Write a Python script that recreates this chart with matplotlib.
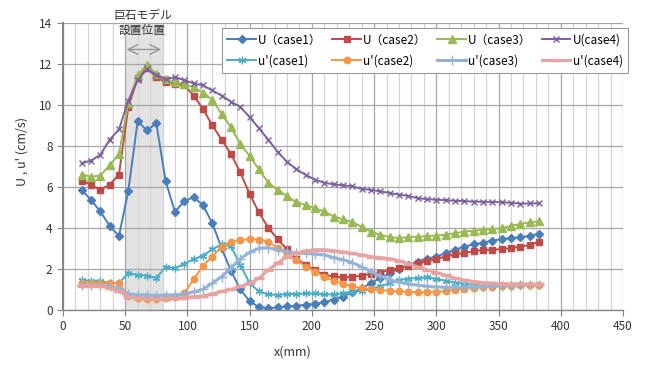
import matplotlib
matplotlib.use("Agg")
import matplotlib.pyplot as plt

plt.rcParams['font.family'] = ['Noto Sans CJK JP', 'DejaVu Sans']

# measurement positions (mm)
x_mm = [15.0, 22.5, 30.0, 37.5, 45.0, 52.5, 60.0, 67.5, 75.0, 82.5,
        90.0, 97.5, 105.0, 112.5, 120.0, 127.5, 135.0, 142.5, 150.0, 157.5,
        165.0, 172.5, 180.0, 187.5, 195.0, 202.5, 210.0, 217.5, 225.0, 232.5,
        240.0, 247.5, 255.0, 262.5, 270.0, 277.5, 285.0, 292.5, 300.0, 307.5,
        315.0, 322.5, 330.0, 337.5, 345.0, 352.5, 360.0, 367.5, 375.0, 382.5]

U1 = [5.85, 5.37, 4.8, 4.1, 3.6, 5.8, 9.2, 8.75, 9.1, 6.28,
      4.78, 5.3, 5.5, 5.1, 4.23, 3.0, 1.9, 1.0, 0.42, 0.13,
      0.08, 0.12, 0.17, 0.2, 0.25, 0.3, 0.38, 0.5, 0.65, 0.85,
      1.05, 1.3, 1.55, 1.8, 2.0, 2.2, 2.35, 2.5, 2.6, 2.77,
      2.93, 3.09, 3.2, 3.27, 3.38, 3.45, 3.5, 3.55, 3.6, 3.72]
U2 = [6.3, 6.1, 5.85, 6.1, 6.6, 9.9, 11.3, 11.8, 11.35, 11.1,
      11.0, 10.95, 10.45, 9.8, 9.0, 8.3, 7.6, 6.7, 5.65, 4.75,
      4.0, 3.45, 2.95, 2.5, 2.2, 1.92, 1.7, 1.63, 1.58, 1.62,
      1.66, 1.76, 1.82, 1.95, 2.03, 2.15, 2.28, 2.36, 2.48, 2.6,
      2.7, 2.78, 2.86, 2.92, 2.93, 2.96, 3.01, 3.09, 3.16, 3.33]
U3 = [6.6, 6.5, 6.55, 7.05, 7.6, 10.1, 11.45, 11.95, 11.5, 11.25,
      11.1, 11.0, 10.85, 10.6, 10.25, 9.55, 8.9, 8.1, 7.5, 6.85,
      6.2, 5.85, 5.55, 5.25, 5.12, 4.95, 4.8, 4.55, 4.42, 4.28,
      4.05, 3.82, 3.66, 3.55, 3.5, 3.55, 3.57, 3.6, 3.62, 3.66,
      3.74, 3.82, 3.86, 3.9, 3.93, 3.98, 4.1, 4.18, 4.27, 4.32]
U4 = [7.15, 7.28, 7.56, 8.3, 8.8, 10.2, 11.2, 11.75, 11.45, 11.25,
      11.35, 11.2, 11.05, 10.95, 10.7, 10.45, 10.15, 9.9, 9.4, 8.85,
      8.3, 7.7, 7.22, 6.86, 6.58, 6.35, 6.2, 6.12, 6.08, 6.02,
      5.9, 5.85, 5.78, 5.7, 5.62, 5.55, 5.45, 5.4, 5.37, 5.35,
      5.32, 5.3, 5.28, 5.27, 5.26, 5.25, 5.22, 5.18, 5.19, 5.2]
u1 = [1.45, 1.42, 1.4, 1.32, 1.3, 1.78, 1.7, 1.67, 1.55, 2.1,
      2.02, 2.25, 2.47, 2.65, 2.95, 3.2, 3.1, 2.2, 1.3, 0.9,
      0.75, 0.73, 0.76, 0.78, 0.8, 0.8, 0.75, 0.76, 0.8, 0.87,
      0.93, 1.02, 1.14, 1.3, 1.45, 1.52, 1.55, 1.58, 1.5, 1.42,
      1.33, 1.26, 1.23, 1.22, 1.22, 1.2, 1.2, 1.2, 1.2, 1.2]
u2 = [1.33, 1.33, 1.3, 1.3, 1.3, 0.68, 0.57, 0.52, 0.52, 0.57,
      0.65, 0.8, 1.5, 2.15, 2.6, 3.09, 3.33, 3.41, 3.45, 3.43,
      3.33, 3.0, 2.7, 2.44, 2.11, 1.87, 1.6, 1.42, 1.28, 1.15,
      1.05, 1.0, 0.97, 0.93, 0.9, 0.88, 0.86, 0.86, 0.88, 0.92,
      0.98, 1.04, 1.07, 1.1, 1.13, 1.16, 1.18, 1.2, 1.22, 1.22]
u3 = [1.22, 1.2, 1.2, 1.14, 1.05, 0.78, 0.73, 0.73, 0.7, 0.73,
      0.73, 0.78, 0.88, 1.0, 1.3, 1.62, 2.03, 2.5, 2.8, 3.0,
      3.03, 2.93, 2.85, 2.78, 2.75, 2.72, 2.68, 2.55, 2.45, 2.3,
      2.1, 1.87, 1.65, 1.48, 1.35, 1.27, 1.2, 1.15, 1.12, 1.1,
      1.1, 1.1, 1.12, 1.13, 1.15, 1.17, 1.18, 1.2, 1.2, 1.22]
u4 = [1.18, 1.18, 1.17, 1.05, 0.9, 0.65, 0.57, 0.52, 0.52, 0.53,
      0.57, 0.6, 0.65, 0.68, 0.78, 0.9, 1.0, 1.14, 1.3, 1.54,
      1.95, 2.28, 2.6, 2.76, 2.88, 2.93, 2.93, 2.88, 2.82, 2.75,
      2.68, 2.6, 2.55, 2.5, 2.4, 2.25, 2.1, 1.95, 1.82, 1.68,
      1.55, 1.45, 1.38, 1.33, 1.3, 1.28, 1.27, 1.26, 1.25, 1.25]

labels = ["U（case1）", "U（case2）", "U（case3）", "U(case4)",
          "u'(case1)", "u'(case2)", "u'(case3)", "u'(case4)"]

fig = plt.figure(figsize=(6.49, 3.68), dpi=100)
ax = fig.add_axes([0.097, 0.158, 0.863, 0.780])

# rock model position band
ax.axvspan(50, 80, color='#e2e2e2', zorder=0.1, lw=0)

h = {}
h[0], = ax.plot(x_mm, U1, color='#4A7EBB', lw=1.4, marker='D', ms=4.2, label=labels[0])
h[1], = ax.plot(x_mm, U2, color='#BE4B48', lw=1.4, marker='s', ms=4.6, label=labels[1])
h[2], = ax.plot(x_mm, U3, color='#98B954', lw=1.4, marker='^', ms=5.5, label=labels[2])
h[3], = ax.plot(x_mm, U4, color='#7D60A0', lw=1.4, marker='x', ms=5, mew=1.0, label=labels[3])
h[4], = ax.plot(x_mm, u1, color='#4BACC6', lw=1.4, marker=(6, 2, 0), ms=5.5, mew=0.9, label=labels[4])
h[5], = ax.plot(x_mm, u2, color='#F79646', lw=1.4, marker='o', ms=4.6, label=labels[5])
h[6], = ax.plot(x_mm, u3, color='#95B3D7', lw=2.2, marker='+', ms=6.5, mew=1.0, label=labels[6])
h[7], = ax.plot(x_mm, u4, color='#E6A3A1', lw=2.2, marker='_', ms=6.5, mew=2.5, label=labels[7])

ax.annotate('', xy=(49, 12.7), xytext=(81, 12.7),
            arrowprops=dict(arrowstyle='<->,head_length=0.7,head_width=0.35',
                            color='#909090', lw=0.9))
fig.text(0.22, 0.958, '巨石モデル', ha='center', va='center', fontsize=8.5, color='#333333')
fig.text(0.219, 0.918, '設置位置', ha='center', va='center', fontsize=8.5, color='#333333')

ax.set_xlim(0, 450)
ax.set_ylim(0, 14)
ax.set_xticks(range(0, 451, 50))
ax.set_xticks(range(0, 451, 10), minor=True)
ax.set_yticks(range(0, 15, 2))
ax.set_axisbelow(True)
ax.grid(which='major', color='#a6a6a6', lw=0.9)
ax.grid(which='minor', axis='x', color='#d4d4d4', lw=0.9)
ax.tick_params(which='minor', length=0)
ax.tick_params(which='major', length=4, color='#808080', labelsize=8.5, labelcolor='#333333')
for s in ['top', 'right']:
    ax.spines[s].set_visible(False)
ax.spines['left'].set_color('#868686')
ax.spines['left'].set_linewidth(1.5)
ax.spines['bottom'].set_color('#868686')
ax.spines['bottom'].set_linewidth(1.0)

ax.set_xlabel('x(mm)', fontsize=9, color='#333333')
ax.xaxis.set_label_coords(0.41, -0.125)
ax.set_ylabel("U , u' (cm/s)", fontsize=9, color='#333333')
ax.yaxis.set_label_coords(-0.062, 0.55)

order = [0, 4, 1, 5, 2, 6, 3, 7]
leg = ax.legend([h[i] for i in order], [labels[i] for i in order], ncol=4,
                loc='upper left', bbox_to_anchor=(0.28, 0.99), fontsize=8.5,
                frameon=True, fancybox=False, framealpha=1, edgecolor='#999999',
                handlelength=2.4, columnspacing=0.9, handletextpad=0.2,
                borderpad=0.45, labelspacing=0.7, borderaxespad=0.2)
leg.get_frame().set_linewidth(0.8)

fig.savefig('out.png', dpi=100)
